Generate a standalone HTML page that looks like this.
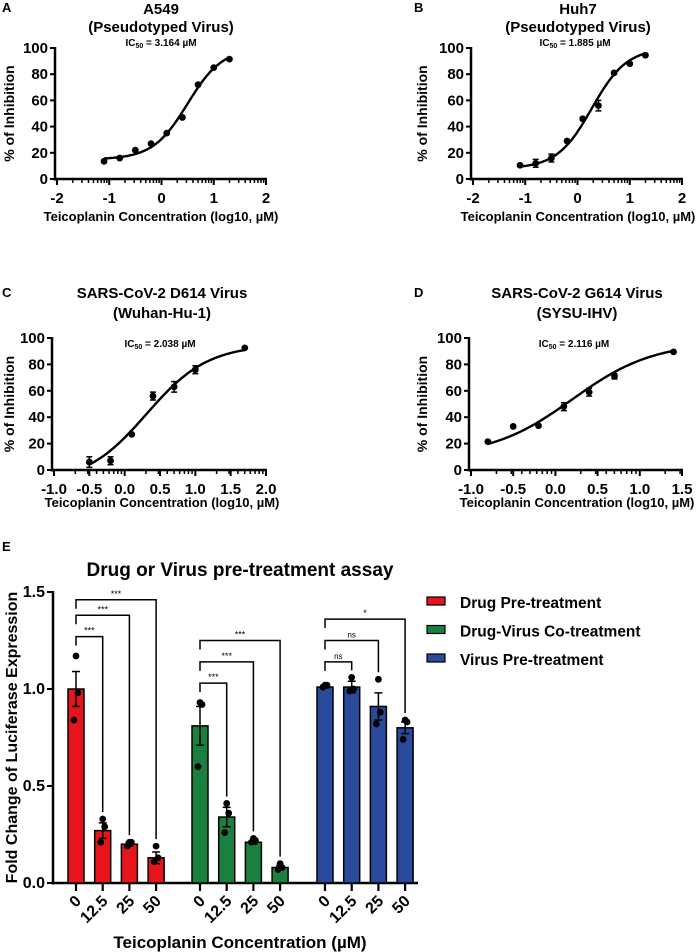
<!DOCTYPE html>
<html><head><meta charset="utf-8">
<style>
body{margin:0;background:#fff;}
svg{display:block;font-family:"Liberation Sans",Arial,sans-serif;font-weight:bold;}
</style></head>
<body>
<svg id="fig" width="700" height="952" viewBox="0 0 700 952" xmlns="http://www.w3.org/2000/svg">
<g id="panels"></g>
</svg>
<script>
// ---- Dose-response data ----
const aX=[-1.1,-0.8,-0.5,-0.2,0.1,0.4,0.7,1.0,1.3];
const aY=[13.5,16,22,27,35,47,72,85,91.5];
const aErr=[0,0,0,0,0,0,0,0,0];
const aFit=[15,100,0.5,1.3];
const bX=[-1.1,-0.8,-0.5,-0.2,0.1,0.4,0.7,1.0,1.3];
const bY=[10.5,12,16,29,46,56,81,88,94.5];
const bErr=[0,3,3,0,1,4,1,0,0];
const bFit=[8,100,0.275,1.3];
const cX=[-0.5,-0.2,0.1,0.4,0.7,1.0,1.7];
const cY=[6,7,27,56,63,76,92.5];
const cErr=[4,3,0,3,4,3,0];
const cFit=[-10,95,0.31,1.0];
const dX=[-0.8,-0.5,-0.2,0.1,0.4,0.7,1.4];
const dY=[21.5,33,33.5,48,59,71,89.5];
const dErr=[0,0,0,3,3,2,0];
const dFit=[10,97,0.2,0.9];
const yTicks=[0,20,40,60,80,100];
const abXTicks=[-2,-1,0,1,2];
const cdXTicks=[-1.0,-0.5,0.0,0.5,1.0,1.5,2.0];
const dXTicks=[-1.0,-0.5,0.0,0.5,1.0,1.5];

// ---- Bar chart data ----
const groups=["Drug Pre-treatment","Drug-Virus Co-treatment","Virus Pre-treatment"];
const conc=["0","12.5","25","50"];
const redVals=[1.0,0.27,0.20,0.13];
const greenVals=[0.81,0.34,0.21,0.08];
const blueVals=[1.01,1.01,0.91,0.80];
const redErr=[0.09,0.04,0.01,0.03];
const greenErr=[0.10,0.05,0.01,0.01];
const blueErr=[0.005,0.03,0.07,0.03];
const redPts=[[1.17,0.98,0.84],[0.33,0.29,0.21],[0.21,0.21,0.19],[0.19,0.13,0.11]];
const greenPts=[[0.93,0.92,0.60],[0.41,0.36,0.26],[0.23,0.22,0.21],[0.10,0.08,0.07]];
const bluePts=[[1.02,1.02,1.01],[1.06,1.00,0.99],[1.05,0.88,0.82],[0.84,0.83,0.74]];
const redSig=[["***",1.27],["***",1.38],["***",1.46]];
const greenSig=[["***",1.03],["***",1.14],["***",1.25]];
const blueSig=[["ns",1.14],["ns",1.25],["*",1.36]];
const barTicks=[0.0,0.5,1.0,1.5];

const NS="http://www.w3.org/2000/svg";
const root=document.getElementById('panels');
function el(tag,attrs,parent,text){
  const e=document.createElementNS(NS,tag);
  for(const k in attrs)e.setAttribute(k,attrs[k]);
  if(text!==undefined)e.textContent=text;
  (parent||root).appendChild(e);return e;
}

function panel(o){
  const g=el('g',{},root);
  
  
  const sx=v=>o.x0+(v-o.xmin)/(o.xmax-o.xmin)*(o.x1-o.x0);
  const sy=v=>o.y0-(v/100)*(o.y0-o.y1);
  const L=el('text',{x:o.letterX,y:o.letterY,'font-size':13},g,o.letter);
  
  
  o.titles.forEach((t,i)=>{
    const tt=el('text',{x:o.tcx,y:o.titleY[i],'font-size':15,'text-anchor':'middle'},g,t);
    
    
  });
  const ic=el('text',{x:o.icx,y:o.icY,'font-size':10,'text-anchor':'middle'},g);
  
  
  ic.innerHTML='IC<tspan font-size="7" dy="2">50</tspan><tspan dy="-2"> = '+o.ic+' µM</tspan>';
  const ax=o.x0-2;
  el('line',{x1:ax,y1:o.y1-1,x2:ax,y2:o.y0+1.5,stroke:'#000','stroke-width':2.5},g);
  el('line',{x1:ax,y1:o.y0,x2:o.x1+1,y2:o.y0,stroke:'#000','stroke-width':2.5},g);
  yTicks.forEach(v=>{
    el('line',{x1:ax-5,y1:sy(v),x2:ax,y2:sy(v),stroke:'#000','stroke-width':2},g);
    const t=el('text',{x:ax-7,y:sy(v)+5,'font-size':15,'text-anchor':'end'},g,String(v));
    
    
  });
  o.xticks.forEach(v=>{
    el('line',{x1:sx(v),y1:o.y0,x2:sx(v),y2:o.y0+6,stroke:'#000','stroke-width':2},g);
    const t=el('text',{x:sx(v),y:o.y0+24,'font-size':15,'text-anchor':'middle'},g,o.dec?v.toFixed(1):String(v));
    
    
  });
  for(let d=Math.floor(o.xmin);d<o.xmax;d++){
    for(let k=2;k<10;k++){const v=d+Math.log10(k);
      if(v>o.xmin&&v<o.xmax)el('line',{x1:sx(v),y1:o.y0,x2:sx(v),y2:o.y0+4,stroke:'#000','stroke-width':1.5},g);}
  }
  const xt=el('text',{x:o.tcx,y:o.xlY,'font-size':13,'text-anchor':'middle'},g,'Teicoplanin Concentration (log10, µM)');
  
  
  const cy=(o.y0+o.y1)/2;
  const yt=el('text',{x:o.ylX,y:cy,'font-size':14,'text-anchor':'middle',transform:`rotate(-90 ${o.ylX} ${cy})`},g,'% of Inhibition');
  
  
  const [b,t,lic,h]=o.fit;
  const f=x=>b+(t-b)/(1+Math.pow(10,h*(lic-x)));
  const xs=o.xs[0],xe=o.xs[o.xs.length-1];
  let d='';
  for(let i=0;i<=80;i++){const x=xs+(xe-xs)*i/80;d+=(i?'L':'M')+sx(x).toFixed(1)+','+sy(f(x)).toFixed(1);}
  const c=el('path',{d:d,fill:'none',stroke:'#000','stroke-width':2.4},g);
  
  
  o.xs.forEach((x,i)=>{
    const e=o.err[i];
    if(e>0){
      el('line',{x1:sx(x),y1:sy(o.ys[i]-e),x2:sx(x),y2:sy(o.ys[i]+e),stroke:'#000','stroke-width':1.5},g);
      [o.ys[i]-e,o.ys[i]+e].forEach(v=>el('line',{x1:sx(x)-3,y1:sy(v),x2:sx(x)+3,y2:sy(v),stroke:'#000','stroke-width':1.5},g));
    }
    const p=el('circle',{cx:sx(x),cy:sy(o.ys[i]),r:3.4,fill:'#000'},g);
    
    
  });
}

panel({name:'panel-a',letter:'A',letterX:2,letterY:12,titles:['A549','(Pseudotyped Virus)'],titleY:[14,32],tcx:161,icx:161,icY:46,ic:'3.164',
  x0:57,x1:266,xmin:-2,xmax:2,y0:179,y1:48,xticks:abXTicks,dec:false,xlY:221,ylX:14,fit:aFit,xs:aX,ys:aY,err:aErr});
panel({name:'panel-b',letter:'B',letterX:414,letterY:12,titles:['Huh7','(Pseudotyped Virus)'],titleY:[14,32],tcx:578,icx:575,icY:46,ic:'1.885',
  x0:473,x1:682,xmin:-2,xmax:2,y0:179,y1:48,xticks:abXTicks,dec:false,xlY:221,ylX:427,fit:bFit,xs:bX,ys:bY,err:bErr});
panel({name:'panel-c',letter:'C',letterX:2,letterY:297,titles:['SARS-CoV-2 D614 Virus','(Wuhan-Hu-1)'],titleY:[298,318],tcx:162,icx:160,icY:347,ic:'2.038',
  x0:54,x1:266,xmin:-1,xmax:2,y0:470,y1:338,xticks:cdXTicks,dec:true,xlY:507,ylX:14,fit:cFit,xs:cX,ys:cY,err:cErr});
panel({name:'panel-d',letter:'D',letterX:414,letterY:297,titles:['SARS-CoV-2 G614 Virus','(SYSU-IHV)'],titleY:[298,318],tcx:577,icx:574,icY:347,ic:'2.116',
  x0:471,x1:682,xmin:-1,xmax:1.5,y0:470,y1:338,xticks:dXTicks,dec:true,xlY:507,ylX:427,fit:dFit,xs:dX,ys:dY,err:dErr});

// ---- Panel E ----
(function(){
  const g=el('g',{},root);
  
  
  const Y0=883,Y15=592;
  const sy=v=>Y0-v/1.5*(Y0-Y15);
  const startX=[76,200,325],step=26.7,bw=16;
  const colors=['#e8141c','#1a8040','#2a4a9c'];
  const vals=[redVals,greenVals,blueVals],errs=[redErr,greenErr,blueErr],pts=[redPts,greenPts,bluePts],sigs=[redSig,greenSig,blueSig];
  const L=el('text',{x:2,y:551,'font-size':13},g,'E');
  
  
  const T=el('text',{x:240,y:576,'font-size':19,'text-anchor':'middle'},g,'Drug or Virus pre-treatment assay');
  
  
  const ax=53;
  el('line',{x1:ax,y1:Y15-1,x2:ax,y2:Y0+1.5,stroke:'#000','stroke-width':2.5},g);
  el('line',{x1:ax,y1:Y0,x2:418,y2:Y0,stroke:'#000','stroke-width':2.5},g);
  barTicks.forEach(v=>{
    el('line',{x1:ax-6,y1:sy(v),x2:ax,y2:sy(v),stroke:'#000','stroke-width':2},g);
    const t=el('text',{x:ax-8,y:sy(v)+5,'font-size':16,'text-anchor':'end'},g,v.toFixed(1));
    
    
  });
  const ycy=(Y0+Y15)/2;
  const yt=el('text',{x:17,y:ycy,'font-size':16,'text-anchor':'middle',transform:`rotate(-90 17 ${ycy})`},g,'Fold Change of Luciferase Expression');
  
  
  const xt=el('text',{x:240,y:948,'font-size':17,'text-anchor':'middle'},g,'Teicoplanin Concentration (µM)');
  
  
  for(let gi=0;gi<3;gi++){
    const cx=i=>startX[gi]+i*step;
    vals[gi].forEach((v,i)=>{
      const r=el('rect',{x:cx(i)-bw/2,y:sy(v),width:bw,height:Y0-sy(v),fill:colors[gi],stroke:'#000','stroke-width':1.5},g);
      
      
      const e=errs[gi][i];
      el('line',{x1:cx(i),y1:sy(v-e),x2:cx(i),y2:sy(v+e),stroke:'#000','stroke-width':1.5},g);
      el('line',{x1:cx(i)-4,y1:sy(v+e),x2:cx(i)+4,y2:sy(v+e),stroke:'#000','stroke-width':1.5},g);
      el('line',{x1:cx(i)-4,y1:sy(v-e),x2:cx(i)+4,y2:sy(v-e),stroke:'#000','stroke-width':1.5},g);
      pts[gi][i].forEach((p,k)=>{
        const c=el('circle',{cx:cx(i)+[0,2,-2][k],cy:sy(p),r:3.4,fill:'#000'},g);
        
        
      });
      el('line',{x1:cx(i),y1:Y0,x2:cx(i),y2:Y0+8,stroke:'#000','stroke-width':2.2},g);
      const tx=cx(i)+6,ty=Y0+19;
      const tl=el('text',{x:tx,y:ty,'font-size':16,'text-anchor':'end',transform:`rotate(-45 ${tx} ${ty})`},g,conc[i]);
      
      
    });
    sigs[gi].forEach((s,k)=>{
      const i=k+1,yb=sy(s[1]);
      const top=pts[gi][i].reduce((a,b)=>Math.max(a,b),vals[gi][i]+errs[gi][i]);
      const d=`M${cx(0)},${yb+9}L${cx(0)},${yb}L${cx(i)},${yb}L${cx(i)},${sy(top)-7}`;
      const br=el('path',{d:d,fill:'none',stroke:'#000','stroke-width':1.5},g);
      
      
      const st=el('text',{x:(cx(0)+cx(i))/2,y:yb-3,'font-size':s[0]==='ns'?8:9,'text-anchor':'middle','font-weight':'normal'},g,s[0]);
      
      
    });
  }
  groups.forEach((n,i)=>{
    const y=603+i*28.5;
    const sw=el('rect',{x:427,y:y-6,width:18,height:8,fill:colors[i],stroke:'#000','stroke-width':1.2},g);
    
    
    const t=el('text',{x:460,y:y+5,'font-size':15.5},g,n);
    
    
  });
})();
</script>
</body></html>
